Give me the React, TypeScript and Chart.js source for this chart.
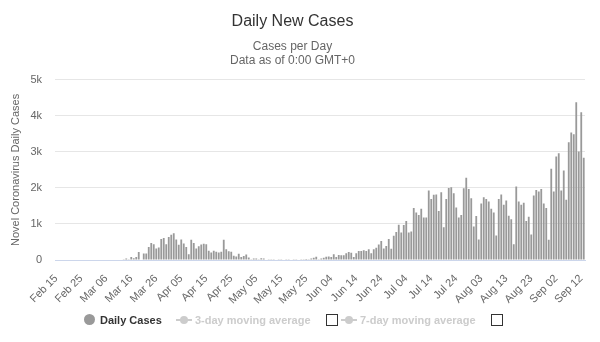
import React, { useEffect, useRef } from "react";
import { Chart, registerables } from "chart.js";

Chart.register(...registerables);

const FONT = '"Liberation Sans", Arial, Helvetica, sans-serif';

// Categories: one per day, Feb 15 .. Sep 13 (2020)
const MONTHS = ["Jan", "Feb", "Mar", "Apr", "May", "Jun", "Jul", "Aug", "Sep", "Oct", "Nov", "Dec"];
const categories: string[] = [];
{
  const d = new Date(Date.UTC(2020, 1, 15));
  const end = Date.UTC(2020, 8, 13);
  while (d.getTime() <= end) {
    categories.push(MONTHS[d.getUTCMonth()] + " " + String(d.getUTCDate()).padStart(2, "0"));
    d.setUTCDate(d.getUTCDate() + 1);
  }
}

// Daily new cases, by month
const febCases = [0, 0, 0, 0, 0, 0, 0, 0, 0, 0, 0, 0, 0, 0, 0];
const marCases = [0, 0, 0, 0, 0, 0, 0, 0, 0, 0, 0, 0, 10, 40, 20, 80, 50, 80, 220, 0, 180, 180, 360, 470, 440, 320, 350, 580, 610, 440, 640];
const aprCases = [700, 740, 570, 420, 570, 460, 360, 160, 560, 470, 320, 380, 430, 450, 440, 260, 210, 260, 230, 210, 230, 560, 300, 240, 230, 120, 100, 170, 80, 110];
const mayCases = [150, 70, 20, 40, 40, 20, 50, 40, 15, 10, 20, 10, 15, 20, 10, 15, 10, 20, 15, 10, 20, 15, 10, 20, 25, 20, 40, 60, 90, 20, 40];
const junCases = [60, 90, 100, 80, 160, 80, 140, 130, 130, 190, 220, 200, 80, 190, 250, 250, 270, 250, 300, 190, 300, 340, 430, 530, 320, 390, 580, 310, 670, 780];
const julCases = [980, 760, 970, 1080, 760, 790, 1440, 1320, 1250, 1420, 1180, 1180, 1930, 1690, 1810, 1820, 1360, 1880, 910, 1690, 2000, 2020, 1850, 1460, 1180, 1250, 1990, 2280, 1970, 1710, 930];
const augCases = [1220, 570, 1570, 1740, 1690, 1620, 1420, 1320, 680, 1690, 1820, 1530, 1650, 1230, 1130, 440, 2040, 1620, 1530, 1590, 1080, 1200, 710, 1790, 1940, 1900, 1970, 1570, 1440, 560, 2530];
const sepCases = [1900, 2870, 2960, 1930, 2480, 1670, 3270, 3540, 3490, 4380, 3010, 4100, 2840];

const dailyCases = [...febCases, ...marCases, ...aprCases, ...mayCases, ...junCases, ...julCases, ...augCases, ...sepCases];

const yTickValues = [0, 1000, 2000, 3000, 4000, 5000];
const yTickLabels = ["0", "1k", "2k", "3k", "4k", "5k"];
const xLabelEvery = 10;

function LegendLineSymbol({ left }: { left: number }) {
  return (
    <div style={{ position: "absolute", left, top: 315, width: 16, height: 10 }}>
      <div style={{ position: "absolute", left: 0, top: 4, width: 16, height: 2, background: "#cccccc" }} />
      <div style={{ position: "absolute", left: 4, top: 1, width: 8, height: 8, borderRadius: "50%", background: "#cccccc" }} />
    </div>
  );
}

function CheckBox({ left }: { left: number }) {
  return (
    <div
      style={{
        position: "absolute",
        left,
        top: 314,
        width: 10,
        height: 10,
        border: "1px solid #333",
        background: "#fff",
      }}
    />
  );
}

export default function App() {
  const canvasRef = useRef<HTMLCanvasElement | null>(null);

  useEffect(() => {
    if (!canvasRef.current) return;
    const chart = new Chart(canvasRef.current, {
      type: "bar",
      data: {
        labels: categories,
        datasets: [
          {
            label: "Daily Cases",
            data: dailyCases,
            backgroundColor: "#999999",
            borderWidth: 0,
            barPercentage: 0.72,
            categoryPercentage: 1,
          },
        ],
      },
      options: {
        animation: false,
        responsive: false,
        maintainAspectRatio: false,
        layout: { padding: { top: 0, left: 0, right: 15, bottom: 34 } },
        font: { family: FONT },
        plugins: {
          legend: { display: false },
          tooltip: { enabled: false },
          title: {
            display: true,
            text: "Daily New Cases",
            color: "#333333",
            font: { family: FONT, size: 16, weight: "normal", lineHeight: 1.2 },
            padding: { top: 12, bottom: 9 },
          },
          subtitle: {
            display: true,
            text: ["Cases per Day", "Data as of 0:00 GMT+0"],
            color: "#666666",
            font: { family: FONT, size: 12, weight: "normal", lineHeight: 1.15 },
            padding: { top: 0, bottom: 12 },
          },
        },
        scales: {
          x: {
            offset: true,
            grid: { display: false },
            border: { display: true, color: "#ccd6eb", width: 1 },
            ticks: {
              autoSkip: false,
              maxRotation: 45,
              minRotation: 45,
              color: "#666666",
              font: { family: FONT, size: 11 },
              padding: 4,
              callback: (_v: any, i: number) => (i % xLabelEvery === 0 ? categories[i] : ""),
            },
            afterFit: (s: any) => {
              s.height = 48;
            },
          },
          y: {
            min: 0,
            max: 5000,
            afterBuildTicks: (s: any) => {
              s.ticks = yTickValues.map((v) => ({ value: v }));
            },
            ticks: {
              color: "#666666",
              font: { family: FONT, size: 11 },
              padding: 13,
              callback: (v: any) => {
                const k = yTickValues.indexOf(Number(v));
                return k >= 0 ? yTickLabels[k] : "";
              },
            },
            grid: { color: "#e6e6e6", drawTicks: false },
            border: { display: false },
            title: {
              display: true,
              text: "Novel Coronavirus Daily Cases",
              color: "#666666",
              font: { family: FONT, size: 11 },
              padding: { top: 9, bottom: 0 },
            },
            afterFit: (s: any) => {
              s.width = 55;
            },
          },
        },
      },
    } as any);
    return () => chart.destroy();
  }, []);

  const legendText: React.CSSProperties = {
    position: "absolute",
    top: 313,
    fontFamily: FONT,
    fontSize: 11,
    fontWeight: "bold",
    lineHeight: "14px",
    whiteSpace: "nowrap",
  };

  return (
    <div style={{ position: "fixed", left: 0, top: 0, width: 600, height: 342, background: "#fff", overflow: "hidden" }}>
      <canvas ref={canvasRef} width={600} height={342} style={{ position: "absolute", left: 0, top: 0, width: 600, height: 342 }} />
      <div style={{ position: "absolute", left: 84, top: 314, width: 11, height: 11, borderRadius: "50%", background: "#999999" }} />
      <div style={{ ...legendText, left: 100, color: "#333333" }}>Daily Cases</div>
      <LegendLineSymbol left={176} />
      <div style={{ ...legendText, left: 195, color: "#cccccc" }}>3-day moving average</div>
      <CheckBox left={326} />
      <LegendLineSymbol left={341} />
      <div style={{ ...legendText, left: 360, color: "#cccccc" }}>7-day moving average</div>
      <CheckBox left={491} />
    </div>
  );
}
